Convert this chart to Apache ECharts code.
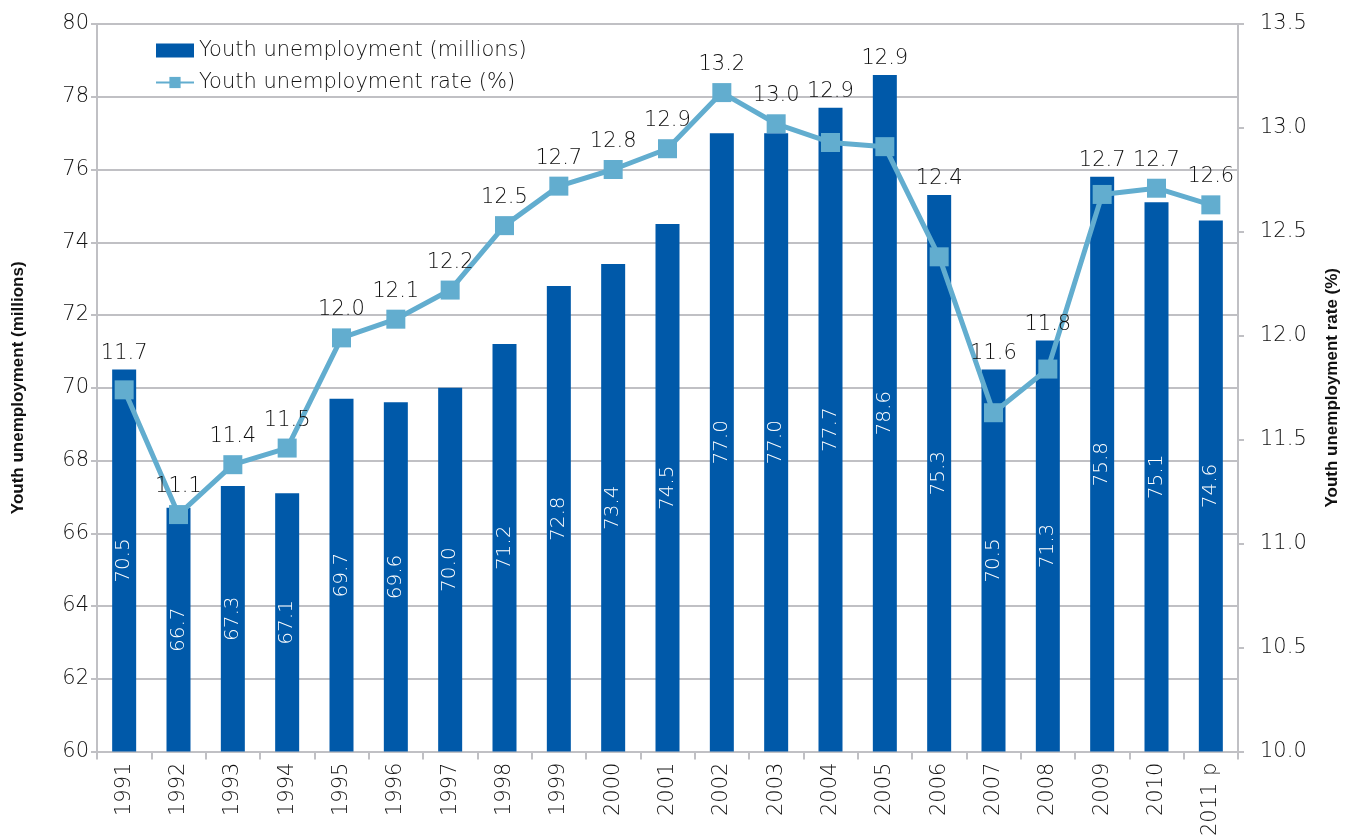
<!DOCTYPE html>
<html lang="en">
<head>
    <meta charset="UTF-8">
    <title>Youth unemployment</title>
    <style>
        html, body { margin: 0; padding: 0; background: #fff; }
    </style>
</head>
<body>
    <div id="main" style="width: 1349px; height: 839px;"></div>
</body>
<script src="https://cdn.jsdelivr.net/npm/echarts@6/dist/echarts.min.js"></script>
<script>
    var years = ['1991', '1992', '1993', '1994', '1995', '1996', '1997', '1998', '1999', '2000',
        '2001', '2002', '2003', '2004', '2005', '2006', '2007', '2008', '2009', '2010', '2011 p'];
    var youthMillions = [70.5, 66.7, 67.3, 67.1, 69.7, 69.6, 70.0, 71.2, 72.8, 73.4,
        74.5, 77.0, 77.0, 77.7, 78.6, 75.3, 70.5, 71.3, 75.8, 75.1, 74.6];
    var youthRate = [11.74, 11.14, 11.38, 11.46, 11.99, 12.08, 12.22, 12.53, 12.72, 12.80,
        12.90, 13.17, 13.02, 12.93, 12.91, 12.38, 11.63, 11.84, 12.68, 12.71, 12.63];

    var font = '"DejaVu Sans", sans-serif';
    var titleFont = '"Liberation Sans Narrow", "Liberation Sans", sans-serif';
    var txt = '#111111';
    var gridCol = '#c0c0c4';

    var myChart = echarts.init(document.getElementById('main'));
    var option = {
        animation: false,
        textStyle: { fontFamily: font },
        legend: {
            orient: 'vertical',
            left: 150,
            top: 35,
            itemGap: 11,
            itemWidth: 38,
            itemHeight: 14,
            textStyle: { fontSize: 21, color: txt, fontFamily: font, fontWeight: 200 },
            data: [
                { name: 'Youth unemployment (millions)', icon: 'rect' },
                { name: 'Youth unemployment rate (%)' }
            ]
        },
        grid: { left: 97, right: 108, top: 24, bottom: 85 },
        xAxis: {
            type: 'category',
            data: years,
            axisLine: { lineStyle: { color: gridCol, width: 2 } },
            axisTick: { show: true, length: 8, lineStyle: { color: gridCol, width: 2 } },
            axisLabel: { rotate: 90, fontSize: 21, color: txt, margin: 11, fontWeight: 200 }
        },
        yAxis: [{
            type: 'value',
            min: 60,
            max: 80,
            interval: 2,
            name: 'Youth unemployment (millions)',
            nameLocation: 'middle',
            nameGap: 70,
            nameTextStyle: { fontFamily: titleFont, fontWeight: 'bold', fontSize: 17, color: txt },
            axisLine: { show: true, lineStyle: { color: gridCol, width: 2 } },
            axisTick: { show: true, length: 6, lineStyle: { color: gridCol, width: 2 } },
            axisLabel: { fontSize: 21, color: txt, margin: 8, fontWeight: 200 },
            splitLine: { lineStyle: { color: gridCol, width: 2 } }
        }, {
            type: 'value',
            min: 10,
            max: 13.5,
            interval: 0.5,
            name: 'Youth unemployment rate (%)',
            nameLocation: 'middle',
            nameGap: 86,
            nameTextStyle: { fontFamily: titleFont, fontWeight: 'bold', fontSize: 17, color: txt },
            axisLine: { show: true, lineStyle: { color: gridCol, width: 2 } },
            axisTick: { show: true, length: 6, lineStyle: { color: gridCol, width: 2 } },
            axisLabel: {
                fontSize: 21, color: txt, margin: 22, fontWeight: 200,
                formatter: function (v) { return v.toFixed(1); }
            },
            splitLine: { show: false }
        }],
        series: [{
            name: 'Youth unemployment (millions)',
            type: 'bar',
            data: youthMillions,
            barWidth: 24,
            itemStyle: { color: '#0059a9' },
            label: {
                show: true,
                position: 'inside',
                rotate: 90,
                color: '#ffffff',
                fontSize: 20,
                fontWeight: 200,
                formatter: function (p) { return p.value.toFixed(1); }
            }
        }, {
            name: 'Youth unemployment rate (%)',
            type: 'line',
            yAxisIndex: 1,
            data: youthRate,
            symbol: 'rect',
            symbolSize: 19,
            lineStyle: { color: '#62adcf', width: 5 },
            itemStyle: { color: '#62adcf' },
            z: 5,
            label: {
                show: true,
                position: 'top',
                distance: 8,
                color: txt,
                fontSize: 21,
                fontWeight: 200,
                formatter: function (p) { return p.value.toFixed(1); }
            }
        }]
    };
    myChart.setOption(option);

    // lift rate labels above the bar when the bar top is higher than the marker
    var rateData = youthRate.map(function (v, i) {
        var barY = myChart.convertToPixel({ yAxisIndex: 0 }, youthMillions[i]);
        var lineY = myChart.convertToPixel({ yAxisIndex: 1 }, v);
        var item = { value: v };
        if (barY < lineY - 12) {
            item.label = { offset: [0, barY - lineY + 12] };
        }
        return item;
    });
    myChart.setOption({ series: [{}, { data: rateData }] });
</script>
</html>
